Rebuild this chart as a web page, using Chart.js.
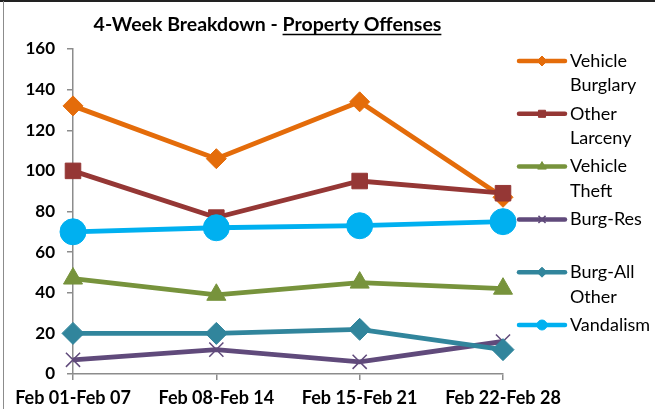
<!DOCTYPE html>
<html>
<head>
<meta charset="utf-8">
<script src="https://cdn.jsdelivr.net/npm/chart.js@4/dist/chart.umd.min.js"></script>
<style>
  html, body { margin: 0; padding: 0; background: #fff; }
  #wrap { width: 655px; height: 409px; position: relative; }
</style>
</head>
<body>
<div id="wrap"><canvas id="grafico"></canvas></div>
<script>
const categories = ["Feb 01-Feb 07", "Feb 08-Feb 14", "Feb 15-Feb 21", "Feb 22-Feb 28"];
const seriesNames = [["Vehicle", "Burglary"], ["Other", "Larceny"], ["Vehicle", "Theft"], ["Burg-Res"], ["Burg-All", "Other"], ["Vandalism"]];
const vehicleBurglary = [132, 106, 134, 87];
const otherLarceny = [100, 77, 95, 89];
const vehicleTheft = [47, 39, 45, 42];
const burgRes = [7, 12, 6, 16];
const burgAllOther = [20, 20, 22, 12];
const vandalism = [70, 72, 73, 75];
const yTicks = [0, 20, 40, 60, 80, 100, 120, 140, 160];

const cores = ["#e46c0a", "#953735", "#77933c", "#604a7b", "#31859c", "#00b0f0"];
const marcadores = ["rectRot", "rect", "triangle", "crossRot", "rectRot", "circle"];
const raios = [10, 11, 11, 10, 11, 13];
const valores = [vehicleBurglary, otherLarceny, vehicleTheft, burgRes, burgAllOther, vandalism];

const FONTE = "Lato, 'Open Sans', sans-serif";

const datasets = valores.map(function (v, i) {
  return {
    label: seriesNames[i].join(" "),
    data: v,
    borderColor: cores[i],
    backgroundColor: cores[i],
    pointBackgroundColor: cores[i],
    pointBorderColor: cores[i],
    pointStyle: marcadores[i],
    pointRadius: raios[i],
    pointBorderWidth: i === 3 ? 1.5 : 1,
    borderWidth: 4.8,
    tension: 0,
    order: 6 - i
  };
});

// titulo com sublinhado + legenda no estilo Excel + moldura
const extras = {
  id: "extras",
  afterDraw(chart) {
    const ctx = chart.ctx;
    ctx.save();

    // moldura
    ctx.strokeStyle = "#222";
    ctx.lineWidth = 2;
    ctx.beginPath(); ctx.moveTo(0, 1); ctx.lineTo(655, 1); ctx.stroke();
    ctx.strokeStyle = "#8c8c8c";
    ctx.lineWidth = 1;
    ctx.beginPath(); ctx.moveTo(3.5, 1); ctx.lineTo(3.5, 409); ctx.stroke();

    // titulo
    ctx.font = "bold 19.5px " + FONTE;
    ctx.fillStyle = "#000";
    ctx.textBaseline = "alphabetic";
    const p1 = "4-Week Breakdown - ";
    const p2 = "Property Offenses";
    const w1 = ctx.measureText(p1).width;
    const w2 = ctx.measureText(p2).width;
    const x0 = 267.5 - (w1 + w2) / 2;
    ctx.textAlign = "left";
    ctx.fillText(p1, x0, 31);
    ctx.fillText(p2, x0 + w1, 31);
    ctx.lineWidth = 1.5;
    ctx.strokeStyle = "#000";
    ctx.beginPath(); ctx.moveTo(x0 + w1, 34.5); ctx.lineTo(x0 + w1 + w2, 34.5); ctx.stroke();

    // legenda
    ctx.textBaseline = "middle";
    chart.data.datasets.forEach(function (ds, i) {
      const y = 61 + i * 52.8;
      ctx.strokeStyle = ds.borderColor;
      ctx.fillStyle = ds.borderColor;
      ctx.lineWidth = 4.5;
      ctx.lineCap = "round";
      ctx.beginPath(); ctx.moveTo(519, y); ctx.lineTo(565, y); ctx.stroke();
      ctx.lineCap = "butt";
      ctx.lineWidth = i === 3 ? 1.5 : 1;
      Chart.helpers.drawPoint(ctx, {
        pointStyle: ds.pointStyle,
        radius: 5,
        borderWidth: i === 3 ? 1.5 : 1,
        rotation: 0
      }, 542, y);
      ctx.font = "18px " + FONTE;
      ctx.fillStyle = "#000";
      seriesNames[i].forEach(function (linha, k) {
        ctx.fillText(linha, 570, y + k * 24.5);
      });
    });
    ctx.restore();
  }
};

new Chart(document.getElementById("grafico"), {
  type: "line",
  data: { labels: categories, datasets: datasets },
  options: {
    responsive: true,
    maintainAspectRatio: false,
    animation: false,
    layout: { padding: { top: 49, right: 152, left: 0, bottom: 0 } },
    plugins: {
      legend: { display: false },
      title: { display: false },
      tooltip: { enabled: false }
    },
    scales: {
      x: {
        offset: false,
        afterFit: function (s) { s.height = 35; },
        grid: { drawOnChartArea: false, drawTicks: true, tickLength: 6, color: "#8c8c8c", lineWidth: 1.5 },
        border: { color: "#8c8c8c", width: 1.5 },
        ticks: {
          color: "#000",
          padding: 7,
          maxRotation: 0,
          autoSkip: false,
          font: { family: FONTE, size: 18, weight: "bold" }
        }
      },
      y: {
        min: 0,
        max: 160,
        afterFit: function (s) { s.width = 73; },
        afterBuildTicks: function (s) { s.ticks = yTicks.map(function (v) { return { value: v }; }); },
        grid: { drawOnChartArea: false, drawTicks: true, tickLength: 6, color: "#8c8c8c", lineWidth: 1.5 },
        border: { color: "#8c8c8c", width: 1.5 },
        ticks: {
          color: "#000",
          padding: 12,
          font: { family: FONTE, size: 17, weight: "bold" }
        }
      }
    }
  },
  plugins: [extras]
});
</script>
</body>
</html>
